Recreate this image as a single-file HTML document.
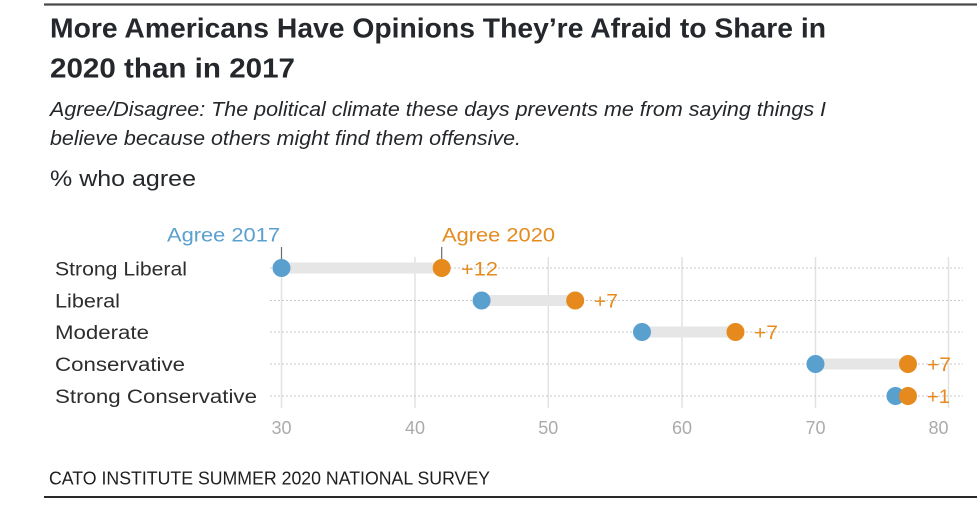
<!DOCTYPE html>
<html>
<head>
<meta charset="utf-8">
<style>
  html, body { margin:0; padding:0; background:#fff; }
  svg { display:block; }
</style>
</head>
<body>
<svg width="980" height="521" viewBox="0 0 980 521" xmlns="http://www.w3.org/2000/svg">
  <rect width="980" height="521" fill="#fff"/>
  <!-- top rule -->
  <line x1="44" y1="4.5" x2="977" y2="4.5" stroke="#4a4a4a" stroke-width="2.2"/>

  <!-- title -->
  <g font-family="'Liberation Sans', sans-serif" fill="#24272b">
    <text x="50" y="37.5" font-size="27.5" font-weight="bold" textLength="776" lengthAdjust="spacingAndGlyphs">More Americans Have Opinions They’re Afraid to Share in</text>
    <text x="50" y="77.5" font-size="27.5" font-weight="bold" textLength="245" lengthAdjust="spacingAndGlyphs">2020 than in 2017</text>
    <text x="50" y="116" font-size="20" font-style="italic" textLength="776" lengthAdjust="spacingAndGlyphs">Agree/Disagree: The political climate these days prevents me from saying things I</text>
    <text x="50" y="145" font-size="20" font-style="italic" textLength="471" lengthAdjust="spacingAndGlyphs">believe because others might find them offensive.</text>
    <text x="50" y="186" font-size="22" textLength="146" lengthAdjust="spacingAndGlyphs">% who agree</text>
  </g>

  <!-- vertical gridlines -->
  <g stroke="#e2e2e2" stroke-width="1.5">
    <line x1="281.5" y1="257" x2="281.5" y2="408"/>
    <line x1="415" y1="257" x2="415" y2="408"/>
    <line x1="548.3" y1="257" x2="548.3" y2="408"/>
    <line x1="682" y1="257" x2="682" y2="408"/>
    <line x1="815.5" y1="257" x2="815.5" y2="408"/>
    <line x1="948.5" y1="257" x2="948.5" y2="408"/>
  </g>

  <!-- dotted row lines -->
  <g stroke="#c8c8c8" stroke-width="1" stroke-dasharray="2,2">
    <line x1="270" y1="268" x2="963" y2="268"/>
    <line x1="270" y1="300.5" x2="963" y2="300.5"/>
    <line x1="270" y1="332" x2="963" y2="332"/>
    <line x1="270" y1="364" x2="963" y2="364"/>
    <line x1="270" y1="396" x2="963" y2="396"/>
  </g>

  <!-- range bars -->
  <g fill="#e6e6e6">
    <rect x="281.5" y="262.5" width="160.2" height="11"/>
    <rect x="481.6" y="295" width="93.4" height="11"/>
    <rect x="641.8" y="326.5" width="93.4" height="11"/>
    <rect x="815.5" y="358.5" width="92.5" height="11"/>
    <rect x="895.5" y="390.5" width="12.5" height="11"/>
  </g>

  <!-- legend ticks -->
  <g stroke="#6a6a6a" stroke-width="1.2">
    <line x1="281.5" y1="247" x2="281.5" y2="259"/>
    <line x1="441.7" y1="247" x2="441.7" y2="259"/>
  </g>

  <!-- dots -->
  <g>
    <circle cx="281.5" cy="268" r="9" fill="#5aa0cf"/>
    <circle cx="441.7" cy="268" r="9" fill="#e68a1e"/>
    <circle cx="481.6" cy="300.5" r="9" fill="#5aa0cf"/>
    <circle cx="575.2" cy="300.5" r="9" fill="#e68a1e"/>
    <circle cx="642" cy="332" r="9" fill="#5aa0cf"/>
    <circle cx="735.5" cy="332" r="9" fill="#e68a1e"/>
    <circle cx="815.5" cy="364" r="9" fill="#5aa0cf"/>
    <circle cx="908" cy="364" r="9" fill="#e68a1e"/>
    <circle cx="895.5" cy="396" r="9" fill="#5aa0cf"/>
    <circle cx="908" cy="396" r="9" fill="#e68a1e"/>
  </g>

  <!-- legend labels -->
  <g font-family="'Liberation Sans', sans-serif" font-size="19">
    <text x="280" y="241.5" text-anchor="end" fill="#5aa0cf" textLength="113" lengthAdjust="spacingAndGlyphs">Agree 2017</text>
    <text x="442" y="241.5" fill="#e68a1e" textLength="113" lengthAdjust="spacingAndGlyphs">Agree 2020</text>
  </g>

  <!-- category labels -->
  <g font-family="'Liberation Sans', sans-serif" font-size="19" fill="#2d2d2d">
    <text x="55" y="275.5" textLength="132" lengthAdjust="spacingAndGlyphs">Strong Liberal</text>
    <text x="55" y="307.5" textLength="65" lengthAdjust="spacingAndGlyphs">Liberal</text>
    <text x="55" y="339" textLength="94" lengthAdjust="spacingAndGlyphs">Moderate</text>
    <text x="55" y="371" textLength="130" lengthAdjust="spacingAndGlyphs">Conservative</text>
    <text x="55" y="403" textLength="202" lengthAdjust="spacingAndGlyphs">Strong Conservative</text>
  </g>

  <!-- delta labels -->
  <g font-family="'Liberation Sans', sans-serif" font-size="19" fill="#e68a1e">
    <text x="461" y="275.5" textLength="37" lengthAdjust="spacingAndGlyphs">+12</text>
    <text x="594" y="307.5" textLength="24" lengthAdjust="spacingAndGlyphs">+7</text>
    <text x="754" y="339" textLength="24" lengthAdjust="spacingAndGlyphs">+7</text>
    <text x="927" y="371" textLength="24" lengthAdjust="spacingAndGlyphs">+7</text>
    <text x="927" y="403" textLength="23" lengthAdjust="spacingAndGlyphs">+1</text>
  </g>

  <!-- x tick labels -->
  <g font-family="'Liberation Sans', sans-serif" font-size="18" fill="#ababab">
    <text x="281.5" y="434" text-anchor="middle">30</text>
    <text x="415" y="434" text-anchor="middle">40</text>
    <text x="548.3" y="434" text-anchor="middle">50</text>
    <text x="682" y="434" text-anchor="middle">60</text>
    <text x="815.5" y="434" text-anchor="middle">70</text>
    <text x="948.5" y="434" text-anchor="end">80</text>
  </g>

  <!-- footer -->
  <text x="49" y="484.5" font-family="'Liberation Sans', sans-serif" font-size="18.5" fill="#1f1f1f" textLength="441" lengthAdjust="spacingAndGlyphs">CATO INSTITUTE SUMMER 2020 NATIONAL SURVEY</text>
  <line x1="44" y1="497" x2="977" y2="497" stroke="#2a2a2a" stroke-width="2"/>
</svg>
</body>
</html>
